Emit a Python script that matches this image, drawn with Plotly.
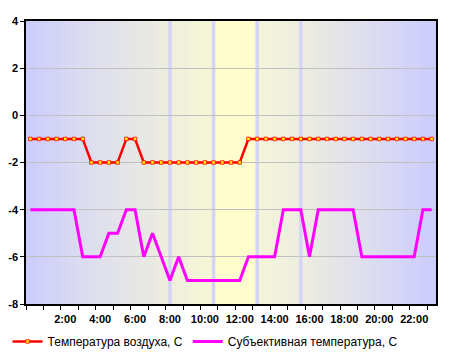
import plotly.graph_objects as go

# ---- data ----
time_labels = ["0:00", "0:30", "1:00", "1:30", "2:00", "2:30", "3:00", "3:30", "4:00", "4:30",
               "5:00", "5:30", "6:00", "6:30", "7:00", "7:30", "8:00", "8:30", "9:00", "9:30",
               "10:00", "10:30", "11:00", "11:30", "12:00", "12:30", "13:00", "13:30", "14:00", "14:30",
               "15:00", "15:30", "16:00", "16:30", "17:00", "17:30", "18:00", "18:30", "19:00", "19:30",
               "20:00", "20:30", "21:00", "21:30", "22:00", "22:30", "23:00"]

air_temp = [-1, -1, -1, -1, -1, -1, -1, -2, -2, -2,
            -2, -1, -1, -2, -2, -2, -2, -2, -2, -2,
            -2, -2, -2, -2, -2, -1, -1, -1, -1, -1,
            -1, -1, -1, -1, -1, -1, -1, -1, -1, -1,
            -1, -1, -1, -1, -1, -1, -1]

feels_temp = [-4, -4, -4, -4, -4, -4, -6, -6, -6, -5,
              -5, -4, -4, -6, -5, -6, -7, -6, -7, -7,
              -7, -7, -7, -7, -7, -6, -6, -6, -6, -4,
              -4, -4, -6, -4, -4, -4, -4, -4, -6, -6,
              -6, -6, -6, -6, -6, -4, -4]

x_tick_vals = [2, 4, 6, 8, 10, 12, 14, 16, 18, 20, 22]
x_tick_text = ["2:00", "4:00", "6:00", "8:00", "10:00", "12:00", "14:00", "16:00", "18:00", "20:00", "22:00"]
y_tick_vals = [-8, -6, -4, -2, 0, 2, 4]
y_tick_text = ["-8", "-6", "-4", "-2", "0", "2", "4"]

band_hours = [8, 10.5, 13, 15.5]

series_names = ["Температура воздуха, С", "Субъективная температура, С"]


def to_hours(s):
    h, m = s.split(":")
    return int(h) + int(m) / 60.0


hours = [to_hours(s) for s in time_labels]

X_MIN, X_MAX = -0.25, 23.25

# background gradient stops (fraction across plot, rgb)
grad_stops = [
    (0.00, (204, 204, 255)),
    (0.15, (221, 221, 240)),
    (0.30, (233, 233, 227)),
    (0.35, (238, 238, 221)),
    (0.455, (247, 247, 214)),
    (0.46, (255, 253, 206)),
    (0.56, (255, 253, 206)),
    (0.565, (245, 245, 218)),
    (0.67, (237, 237, 224)),
    (0.85, (220, 220, 240)),
    (1.00, (204, 204, 255)),
]


def grad_color(f):
    for (f0, c0), (f1, c1) in zip(grad_stops[:-1], grad_stops[1:]):
        if f0 <= f <= f1:
            t = 0 if f1 == f0 else (f - f0) / (f1 - f0)
            return "rgb(%d,%d,%d)" % tuple(round(a + (b - a) * t) for a, b in zip(c0, c1))
    return "rgb(%d,%d,%d)" % grad_stops[-1][1]


shapes = []
N = 140
span = X_MAX - X_MIN
for i in range(N):
    x0 = X_MIN + span * i / N
    x1 = X_MIN + span * (i + 1.3) / N
    f = (i + 0.5) / N
    shapes.append(dict(type="rect", xref="x", yref="paper", x0=x0, x1=min(x1, X_MAX), y0=0, y1=1,
                       fillcolor=grad_color(f), line=dict(width=0), layer="below"))
for b in band_hours:
    shapes.append(dict(type="line", xref="x", yref="paper", x0=b, x1=b, y0=0, y1=1,
                       line=dict(color="#D4D4F6", width=3.5), layer="below"))

fig = go.Figure()
fig.add_trace(go.Scatter(
    x=hours, y=air_temp, name=series_names[0], mode="lines+markers",
    line=dict(color="#FF0000", width=2.5),
    marker=dict(symbol="square", size=3.5, color="#FFFF00", line=dict(color="#FF0000", width=0.8)),
))
fig.add_trace(go.Scatter(
    x=hours, y=feels_temp, name=series_names[1], mode="lines",
    line=dict(color="#FF00FF", width=3),
))

font_family = "Liberation Sans, Arial, sans-serif"

fig.update_layout(
    width=449, height=357,
    margin=dict(l=26, r=13, t=21, b=53, autoexpand=False),
    paper_bgcolor="white", plot_bgcolor="white",
    shapes=shapes,
    font=dict(family=font_family, size=12, color="black"),
    showlegend=True,
    legend=dict(orientation="h", x=-0.045, xanchor="left", y=-0.081, yanchor="top",
                font=dict(family=font_family, size=12, color="black"),
                bgcolor="rgba(0,0,0,0)", itemwidth=30, tracegroupgap=0),
    xaxis=dict(range=[X_MIN, X_MAX], tickvals=x_tick_vals, ticktext=x_tick_text, ticks="",
               showgrid=False, zeroline=False, showline=True, mirror=True, automargin=False,
               linecolor="black", linewidth=1.5, ticklabelstandoff=4,
               tickfont=dict(family=font_family, size=11, color="black", weight="bold"),
               minor=dict(ticks="outside", ticklen=4, tickcolor="black", tickwidth=1,
                          tick0=-0.25, dtick=1, showgrid=False)),
    yaxis=dict(range=[-8, 4], tickvals=y_tick_vals, ticktext=y_tick_text, ticks="outside",
               ticklen=4, tickcolor="black", showgrid=True, gridcolor="#C0C0C0", gridwidth=1,
               zeroline=False, showline=True, mirror=True, linecolor="black", linewidth=1.5,
               automargin=False,
               tickfont=dict(family=font_family, size=11, color="black", weight="bold")),
)

fig.write_html("out.html", config={"displayModeBar": False},
               post_script="document.body.style.margin='0';document.body.style.overflow='hidden';")
